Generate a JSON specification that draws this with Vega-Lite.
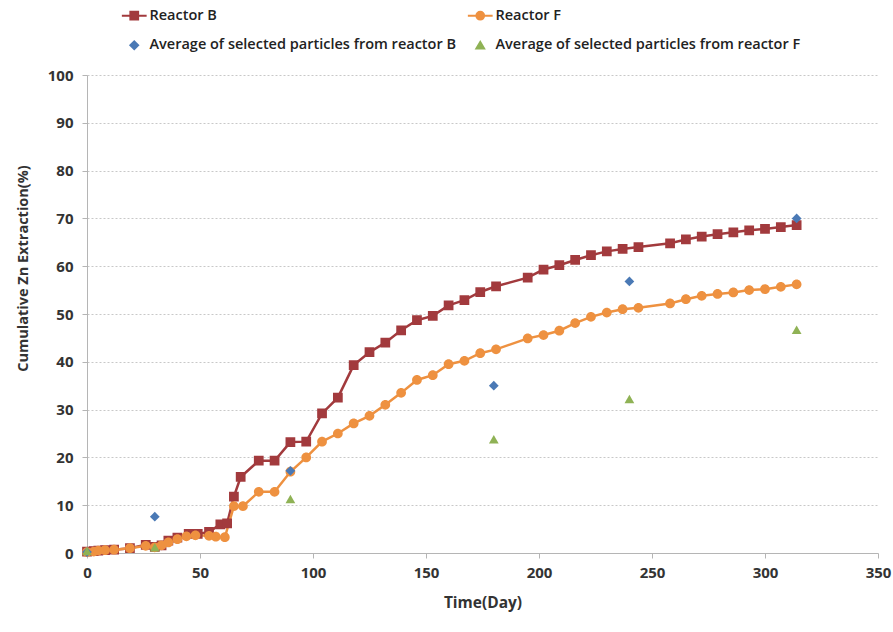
{
  "$schema": "https://vega.github.io/schema/vega-lite/v6.json",
  "width": 791,
  "height": 478,
  "autosize": "none",
  "padding": {"left": 87, "top": 75, "right": 15, "bottom": 79},
  "background": "white",
  "config": {
    "view": {"stroke": null},
    "font": "Open Sans"
  },
  "resolve": {"legend": {"color": "independent", "shape": "independent"}},
  "data": {
    "values": [
      {"series": "Reactor B", "day": 0, "value": 0.3},
      {"series": "Reactor B", "day": 3, "value": 0.4},
      {"series": "Reactor B", "day": 5, "value": 0.5},
      {"series": "Reactor B", "day": 8, "value": 0.6},
      {"series": "Reactor B", "day": 12, "value": 0.7},
      {"series": "Reactor B", "day": 19, "value": 1.0},
      {"series": "Reactor B", "day": 26, "value": 1.7},
      {"series": "Reactor B", "day": 30, "value": 1.3},
      {"series": "Reactor B", "day": 33, "value": 1.6},
      {"series": "Reactor B", "day": 36, "value": 2.6},
      {"series": "Reactor B", "day": 40, "value": 3.2},
      {"series": "Reactor B", "day": 45, "value": 4.0},
      {"series": "Reactor B", "day": 49, "value": 4.0},
      {"series": "Reactor B", "day": 54, "value": 4.4},
      {"series": "Reactor B", "day": 59, "value": 6.0},
      {"series": "Reactor B", "day": 62, "value": 6.2},
      {"series": "Reactor B", "day": 65, "value": 11.8},
      {"series": "Reactor B", "day": 68, "value": 15.9},
      {"series": "Reactor B", "day": 76, "value": 19.3},
      {"series": "Reactor B", "day": 83, "value": 19.3},
      {"series": "Reactor B", "day": 90, "value": 23.2},
      {"series": "Reactor B", "day": 97, "value": 23.3},
      {"series": "Reactor B", "day": 104, "value": 29.2},
      {"series": "Reactor B", "day": 111, "value": 32.5},
      {"series": "Reactor B", "day": 118, "value": 39.3},
      {"series": "Reactor B", "day": 125, "value": 42.0},
      {"series": "Reactor B", "day": 132, "value": 44.0},
      {"series": "Reactor B", "day": 139, "value": 46.6},
      {"series": "Reactor B", "day": 146, "value": 48.7},
      {"series": "Reactor B", "day": 153, "value": 49.6},
      {"series": "Reactor B", "day": 160, "value": 51.8},
      {"series": "Reactor B", "day": 167, "value": 52.9},
      {"series": "Reactor B", "day": 174, "value": 54.6},
      {"series": "Reactor B", "day": 181, "value": 55.8},
      {"series": "Reactor B", "day": 195, "value": 57.6},
      {"series": "Reactor B", "day": 202, "value": 59.3},
      {"series": "Reactor B", "day": 209, "value": 60.2},
      {"series": "Reactor B", "day": 216, "value": 61.3},
      {"series": "Reactor B", "day": 223, "value": 62.3},
      {"series": "Reactor B", "day": 230, "value": 63.1},
      {"series": "Reactor B", "day": 237, "value": 63.6},
      {"series": "Reactor B", "day": 244, "value": 64.0},
      {"series": "Reactor B", "day": 258, "value": 64.8},
      {"series": "Reactor B", "day": 265, "value": 65.6},
      {"series": "Reactor B", "day": 272, "value": 66.2},
      {"series": "Reactor B", "day": 279, "value": 66.7},
      {"series": "Reactor B", "day": 286, "value": 67.1},
      {"series": "Reactor B", "day": 293, "value": 67.5},
      {"series": "Reactor B", "day": 300, "value": 67.8},
      {"series": "Reactor B", "day": 307, "value": 68.2},
      {"series": "Reactor B", "day": 314, "value": 68.6},
      {"series": "Reactor F", "day": 0, "value": 0.2},
      {"series": "Reactor F", "day": 3, "value": 0.3},
      {"series": "Reactor F", "day": 5, "value": 0.5},
      {"series": "Reactor F", "day": 8, "value": 0.6},
      {"series": "Reactor F", "day": 12, "value": 0.7},
      {"series": "Reactor F", "day": 19, "value": 1.0},
      {"series": "Reactor F", "day": 26, "value": 1.5},
      {"series": "Reactor F", "day": 30, "value": 1.2},
      {"series": "Reactor F", "day": 33, "value": 1.6},
      {"series": "Reactor F", "day": 36, "value": 2.2},
      {"series": "Reactor F", "day": 40, "value": 2.9},
      {"series": "Reactor F", "day": 44, "value": 3.5},
      {"series": "Reactor F", "day": 48, "value": 3.7},
      {"series": "Reactor F", "day": 54, "value": 3.6},
      {"series": "Reactor F", "day": 57, "value": 3.4},
      {"series": "Reactor F", "day": 61, "value": 3.3},
      {"series": "Reactor F", "day": 65, "value": 9.8},
      {"series": "Reactor F", "day": 69, "value": 9.8},
      {"series": "Reactor F", "day": 76, "value": 12.8},
      {"series": "Reactor F", "day": 83, "value": 12.8},
      {"series": "Reactor F", "day": 90, "value": 17.0},
      {"series": "Reactor F", "day": 97, "value": 20.0},
      {"series": "Reactor F", "day": 104, "value": 23.3},
      {"series": "Reactor F", "day": 111, "value": 25.0},
      {"series": "Reactor F", "day": 118, "value": 27.1},
      {"series": "Reactor F", "day": 125, "value": 28.7},
      {"series": "Reactor F", "day": 132, "value": 31.0},
      {"series": "Reactor F", "day": 139, "value": 33.5},
      {"series": "Reactor F", "day": 146, "value": 36.2},
      {"series": "Reactor F", "day": 153, "value": 37.2},
      {"series": "Reactor F", "day": 160, "value": 39.5},
      {"series": "Reactor F", "day": 167, "value": 40.2},
      {"series": "Reactor F", "day": 174, "value": 41.8},
      {"series": "Reactor F", "day": 181, "value": 42.6},
      {"series": "Reactor F", "day": 195, "value": 44.9},
      {"series": "Reactor F", "day": 202, "value": 45.6},
      {"series": "Reactor F", "day": 209, "value": 46.5},
      {"series": "Reactor F", "day": 216, "value": 48.1},
      {"series": "Reactor F", "day": 223, "value": 49.4},
      {"series": "Reactor F", "day": 230, "value": 50.3},
      {"series": "Reactor F", "day": 237, "value": 51.0},
      {"series": "Reactor F", "day": 244, "value": 51.3},
      {"series": "Reactor F", "day": 258, "value": 52.2},
      {"series": "Reactor F", "day": 265, "value": 53.1},
      {"series": "Reactor F", "day": 272, "value": 53.8},
      {"series": "Reactor F", "day": 279, "value": 54.2},
      {"series": "Reactor F", "day": 286, "value": 54.5},
      {"series": "Reactor F", "day": 293, "value": 55.0},
      {"series": "Reactor F", "day": 300, "value": 55.2},
      {"series": "Reactor F", "day": 307, "value": 55.7},
      {"series": "Reactor F", "day": 314, "value": 56.2},
      {"series": "Average of selected particles from reactor B", "day": 0, "value": 0.2},
      {"series": "Average of selected particles from reactor B", "day": 30, "value": 7.6},
      {"series": "Average of selected particles from reactor B", "day": 90, "value": 17.2},
      {"series": "Average of selected particles from reactor B", "day": 180, "value": 35.0},
      {"series": "Average of selected particles from reactor B", "day": 240, "value": 56.8},
      {"series": "Average of selected particles from reactor B", "day": 314, "value": 70.0},
      {"series": "Average of selected particles from reactor F", "day": 0, "value": 0.4},
      {"series": "Average of selected particles from reactor F", "day": 30, "value": 1.2},
      {"series": "Average of selected particles from reactor F", "day": 90, "value": 11.3},
      {"series": "Average of selected particles from reactor F", "day": 180, "value": 23.8},
      {"series": "Average of selected particles from reactor F", "day": 240, "value": 32.2},
      {"series": "Average of selected particles from reactor F", "day": 314, "value": 46.7}
    ]
  },
  "encoding": {
    "x": {
      "field": "day", "type": "quantitative",
      "scale": {"domain": [0, 350], "nice": false},
      "axis": {
        "title": "Time(Day)", "values": [0, 50, 100, 150, 200, 250, 300, 350],
        "grid": false, "domainColor": "#b5b5b5", "tickColor": "#b5b5b5", "tickSize": 5,
        "labelFont": "Open Sans", "labelFontSize": 15, "labelFontWeight": "bold", "labelColor": "#333333",
        "labelPadding": 7, "labelFlush": false,
        "titleFont": "Open Sans", "titleFontSize": 15.5, "titleFontWeight": "bold", "titleColor": "#333333",
        "titlePadding": 15
      }
    },
    "y": {
      "field": "value", "type": "quantitative",
      "scale": {"domain": [0, 100], "nice": false},
      "axis": {
        "title": "Cumulative Zn Extraction(%)", "values": [0, 10, 20, 30, 40, 50, 60, 70, 80, 90, 100],
        "grid": true, "gridColor": "#c8c8c8", "gridDash": [2, 2], "gridWidth": 1,
        "domainColor": "#b5b5b5", "tickColor": "#b5b5b5", "tickSize": 5,
        "labelFont": "Open Sans", "labelFontSize": 15, "labelFontWeight": "bold", "labelColor": "#333333",
        "labelPadding": 9,
        "titleFont": "Open Sans", "titleFontSize": 14.5, "titleFontWeight": "bold", "titleColor": "#333333",
        "titlePadding": 17, "titleY": 193
      }
    }
  },
  "layer": [
    {
      "transform": [{"filter": "datum.series === 'Reactor B' || datum.series === 'Reactor F'"}],
      "mark": {"type": "line", "strokeWidth": 2.5},
      "encoding": {
        "color": {"field": "series", "type": "nominal", "legend": null,
          "scale": {
            "domain": ["Reactor B", "Reactor F", "Average of selected particles from reactor B", "Average of selected particles from reactor F"],
            "range": ["#A23A3D", "#EE9140", "#4A79B5", "#8FB255"]
          }
        }
      }
    },
    {
      "mark": {"type": "point", "filled": true, "opacity": 1},
      "encoding": {
        "color": {"field": "series", "type": "nominal",
          "scale": {
            "domain": ["Reactor B", "Reactor F", "Average of selected particles from reactor B", "Average of selected particles from reactor F"],
            "range": ["#A23A3D", "#EE9140", "#4A79B5", "#8FB255"]
          },
          "legend": {
            "orient": "none", "direction": "horizontal", "legendX": 40, "legendY": -67, "columns": 2, "title": null,
            "padding": 0, "rowPadding": 13, "columnPadding": 6, "labelLimit": 500,
            "labelFont": "Open Sans", "labelFontSize": 14.5, "labelFontWeight": 600, "labelColor": "#222222",
            "labelOffset": 8, "symbolSize": 60, "symbolOpacity": 1,
            "encode": {"symbols": {"update": {"stroke": {"scale": "color", "field": "value"}, "strokeWidth": {"value": 2}}}}
          }
        },
        "shape": {"field": "series", "type": "nominal",
          "scale": {
            "domain": ["Reactor B", "Reactor F", "Average of selected particles from reactor B", "Average of selected particles from reactor F"],
            "range": ["M-3.2,0H-1M1,0H3.2M-1,-1H1V1H-1Z", "M-3.2,0H-1M1,0H3.2M-1,0A1,1,0,1,0,1,0A1,1,0,1,0,-1,0Z", "diamond", "triangle-up"]
          },
          "legend": {
            "orient": "none", "direction": "horizontal", "legendX": 40, "legendY": -67, "columns": 2, "title": null,
            "padding": 0, "rowPadding": 13, "columnPadding": 6, "labelLimit": 500,
            "labelFont": "Open Sans", "labelFontSize": 14.5, "labelFontWeight": 600, "labelColor": "#222222",
            "labelOffset": 8, "symbolSize": 60, "symbolOpacity": 1,
            "encode": {"symbols": {"update": {"stroke": {"scale": "color", "field": "value"}, "strokeWidth": {"value": 2}}}}
          }
        },
        "size": {"value": 95}
      }
    }
  ]
}
